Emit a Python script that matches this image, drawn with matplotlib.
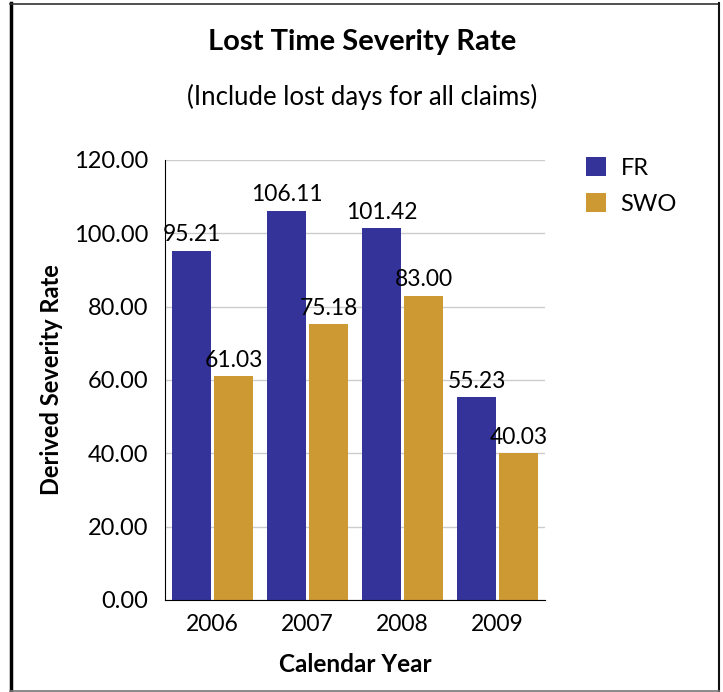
import numpy as np
import matplotlib
matplotlib.use("Agg")
import matplotlib.pyplot as plt
from matplotlib.lines import Line2D

years = ["2006", "2007", "2008", "2009"]
fr = [95.21, 106.11, 101.42, 55.23]
swo = [61.03, 75.18, 83.00, 40.03]
yticks = [0, 20, 40, 60, 80, 100, 120]

plt.rcParams['font.family'] = ['Lato', 'DejaVu Sans']

W, H = 723, 692
fig = plt.figure(figsize=(W / 100, H / 100), dpi=100)
ax = fig.add_axes([165 / W, 1 - 600 / H, 380 / W, 440 / H])

x = np.arange(len(years))
bw = 0.41
gap = 0.032
b1 = ax.bar(x - bw / 2 - gap / 2, fr, bw, color="#333399", label="FR")
b2 = ax.bar(x + bw / 2 + gap / 2, swo, bw, color="#CC9933", label="SWO")

for bars, vals in ((b1, fr), (b2, swo)):
    for b, v in zip(bars, vals):
        ax.text(b.get_x() + b.get_width() / 2, v + 1.5, f"{v:.2f}",
                ha="center", va="bottom", fontsize=16.5)

ax.set_xlim(-0.5, len(years) - 0.5)
ax.set_ylim(0, 120)
ax.set_yticks(yticks)
ax.set_yticklabels([f"{t:.2f}" for t in yticks], fontsize=17)
ax.set_xticks(x)
ax.set_xticklabels(years, fontsize=16.5)
ax.tick_params(axis="y", length=0, pad=12)
ax.tick_params(axis="x", length=0, pad=10)
ax.yaxis.grid(True, color="#cccccc", linewidth=1)
ax.set_axisbelow(True)
for s in ("top", "right"):
    ax.spines[s].set_visible(False)
ax.spines["left"].set_color("black")
ax.spines["bottom"].set_color("black")

ax.set_ylabel("Derived Severity Rate", fontsize=17, fontweight="bold", labelpad=8)
ax.set_xlabel("Calendar Year", fontsize=17.5, fontweight="bold", labelpad=13)

fig.text(362 / W, 1 - 42 / H, "Lost Time Severity Rate", ha="center", va="center",
         fontsize=21, fontweight="bold")
fig.text(362 / W, 1 - 97 / H, "(Include lost days for all claims)", ha="center",
         va="center", fontsize=18.5)

fig.legend(handles=[b1, b2], loc="upper left", bbox_to_anchor=(565 / W, 1 - 136 / H),
           frameon=False, fontsize=17, handlelength=0.85, handleheight=0.85,
           handletextpad=0.6, labelspacing=0.6)

# outer frame
fig.add_artist(Line2D([10.5 / W, 10.5 / W], [0, 1 - 3 / H], color="black", linewidth=2.5))
fig.add_artist(Line2D([10 / W, 719 / W], [1 - 3.5 / H, 1 - 3.5 / H], color="#333333", linewidth=1.2))
fig.add_artist(Line2D([718.5 / W, 718.5 / W], [1 - 3 / H, 1 - 691 / H], color="#111111", linewidth=1.5))
fig.add_artist(Line2D([10 / W, 719 / W], [1 - 690.5 / H, 1 - 690.5 / H], color="#777777", linewidth=1.2))

fig.savefig("out.png", dpi=100)
